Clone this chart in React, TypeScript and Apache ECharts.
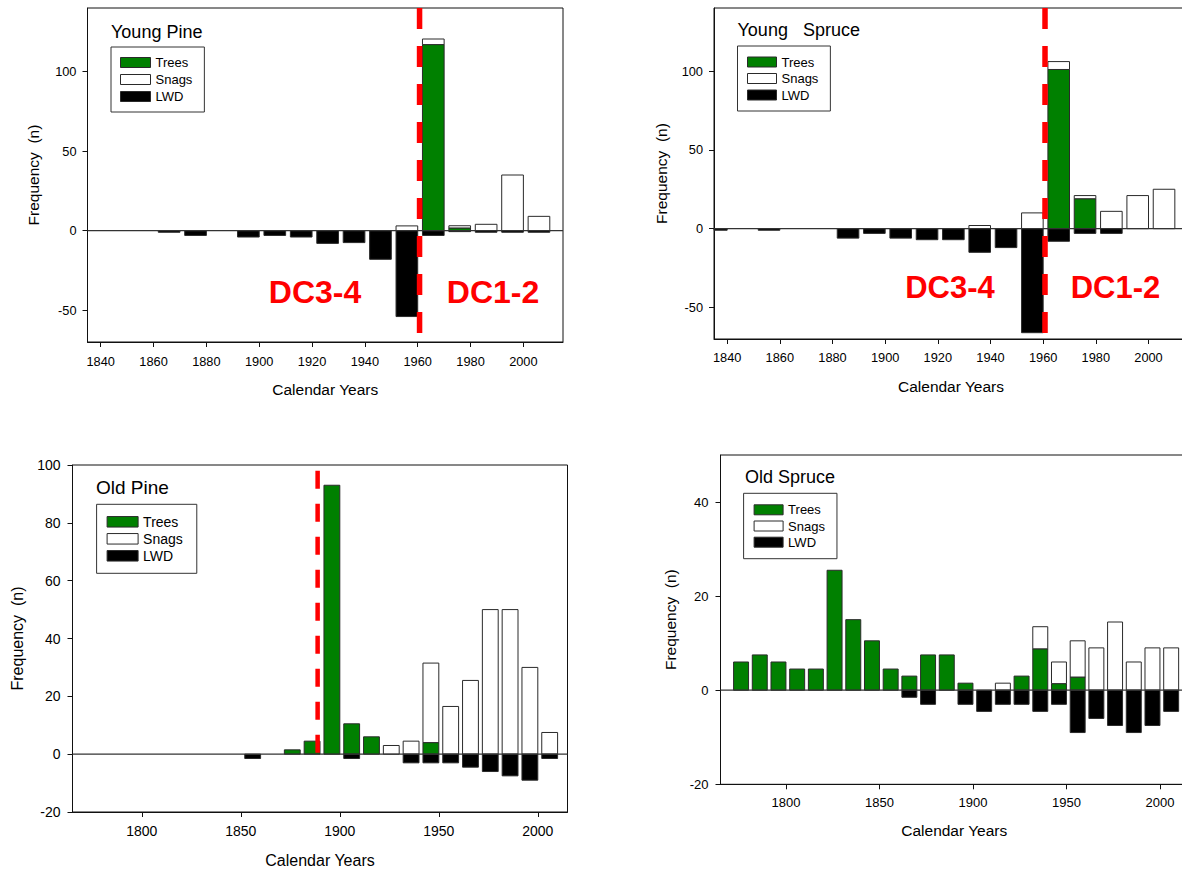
import React, { useEffect, useRef } from 'react';
import * as echarts from 'echarts';

// ---------------- DATA ----------------
// Young Pine (10-year bins, labelled by bin end year)
const ypYears = [1870, 1880, 1890, 1900, 1910, 1920, 1930, 1940, 1950, 1960, 1970, 1980, 1990, 2000, 2010];
const ypTrees = [0, 0, 0, 0, 0, 0, 0, 0, 0, 0, 117, 1.7, 0, 0, 0];
const ypSnags = [0, 0, 0, 0, 0, 0, 0, 0, 0, 3, 3.5, 1.4, 4, 35, 9];
const ypLWD = [-1, -3, 0, -4, -3, -4, -8, -7.5, -18, -54, -3, -0.6, -1, -1, -1];

// Young Spruce
const ysYears = [1840, 1860, 1890, 1900, 1910, 1920, 1930, 1940, 1950, 1960, 1970, 1980, 1990, 2000, 2010];
const ysTrees = [0, 0, 0, 0, 0, 0, 0, 0, 0, 0, 101, 19, 0, 0, 0];
const ysSnags = [0, 0, 0, 0, 0, 0, 0, 2, 0, 10, 5, 2, 11, 21, 25];
const ysLWD = [-1, -1, -6, -3, -6, -7, -7, -15, -12, -66, -8, -3, -3, 0, 0];

// Old Pine
const opYears = [1860, 1880, 1890, 1900, 1910, 1920, 1930, 1940, 1950, 1960, 1970, 1980, 1990, 2000, 2010];
const opTrees = [0, 1.5, 4.5, 93, 10.5, 6, 0, 0, 4, 0, 0, 0, 0, 0, 0];
const opSnags = [0, 0, 0, 0, 0, 0, 3, 4.5, 27.5, 16.5, 25.5, 50, 50, 30, 7.5];
const opLWD = [-1.5, 0, 0, 0, -1.5, 0, 0, -3, -3, -3, -4.5, -6, -7.5, -9, -1.5];

// Old Spruce
const osYears = [1780, 1790, 1800, 1810, 1820, 1830, 1840, 1850, 1860, 1870, 1880, 1890, 1900, 1910, 1920, 1930, 1940, 1950, 1960, 1970, 1980, 1990, 2000, 2010];
const osTrees = [6, 7.5, 6, 4.5, 4.5, 25.5, 15, 10.5, 4.5, 3, 7.5, 7.5, 1.5, 0, 0, 3, 8.8, 1.4, 2.8, 0, 0, 0, 0, 0];
const osSnags = [0, 0, 0, 0, 0, 0, 0, 0, 0, 0, 0, 0, 0, 0, 1.5, 0, 4.7, 4.6, 7.7, 9, 14.5, 6, 9, 9];
const osLWD = [0, 0, 0, 0, 0, 0, 0, 0, 0, -1.5, -3, 0, -3, -4.5, -3, -3, -4.5, -3, -9, -6, -7.5, -9, -7.5, -4.5];

// Tick labels
const youngXTicks = [1840, 1860, 1880, 1900, 1920, 1940, 1960, 1980, 2000];
const youngYTicks = [-50, 0, 50, 100];
const oldXTicks = [1800, 1850, 1900, 1950, 2000];
const opYTicks = [-20, 0, 20, 40, 60, 80, 100];
const osYTicks = [-20, 0, 20, 40];

// Divider (decay class boundary) lines
const ypDivider = [[1960.7, 140], [1960.7, -70]];
const ysDivider = [[1960.7, 140], [1960.7, -70]];
const opDivider = [[1888.8, 98], [1888.8, -1]];

const seriesNames = ['Trees', 'Snags', 'LWD'];

// ---------------- STYLE ----------------
const FONT = '"Liberation Sans", Arial, Helvetica, sans-serif';
const GREEN = '#008000';
const EDGE = '#2a2a2a';

type Panel = {
  title: string;
  years: number[];
  trees: number[];
  snags: number[];
  lwd: number[];
  xMin: number; xMax: number; xTicks: number[];
  yMin: number; yMax: number; yTicks: number[];
  grid: { left: number; top: number; width: number; height: number };
  divider?: number[][];
  dash?: number[]; dashWidth?: number;
  barW: number;
  tickFont: number; nameFont: number;
  xLabelMargin: number; xNameGap: number; yLabelMargin: number; yNameGap: number;
  titlePos: [number, number]; titleFont: number;
  legend: { left: number; top: number; padding: number[]; itemGap: number; itemWidth: number; itemHeight: number; font: number };
  dc?: { a: [number, number]; b: [number, number]; font: number };
};

const panels: Panel[] = [
  {
    title: 'Young Pine', years: ypYears, trees: ypTrees, snags: ypSnags, lwd: ypLWD,
    xMin: 1835, xMax: 2015, xTicks: youngXTicks, yMin: -70, yMax: 140, yTicks: youngYTicks,
    grid: { left: 87.5, top: 8, width: 475.5, height: 334 },
    divider: ypDivider, dash: [21, 17], dashWidth: 5.5, barW: 8.2,
    tickFont: 12.8, nameFont: 15.5, xLabelMargin: 13, xNameGap: 39, yLabelMargin: 11, yNameGap: 46,
    titlePos: [111, 32], titleFont: 18,
    legend: { left: 111, top: 47, padding: [9, 12, 9, 9], itemGap: 4, itemWidth: 30, itemHeight: 10, font: 13 },
    dc: { a: [315, 292], b: [493, 292], font: 32 },
  },
  {
    title: 'Young   Spruce', years: ysYears, trees: ysTrees, snags: ysSnags, lwd: ysLWD,
    xMin: 1835, xMax: 2015, xTicks: youngXTicks, yMin: -70, yMax: 140, yTicks: youngYTicks,
    grid: { left: 714, top: 8, width: 474, height: 331 },
    divider: ysDivider, dash: [21, 17], dashWidth: 5.5, barW: 8.2,
    tickFont: 12.8, nameFont: 15.5, xLabelMargin: 12, xNameGap: 39.5, yLabelMargin: 11, yNameGap: 45,
    titlePos: [737.5, 30], titleFont: 18,
    legend: { left: 737.5, top: 46, padding: [9.5, 12, 9.5, 9.5], itemGap: 3.5, itemWidth: 29, itemHeight: 10, font: 13 },
    dc: { a: [950, 287.5], b: [1115.5, 287.5], font: 31 },
  },
  {
    title: 'Old Pine', years: opYears, trees: opTrees, snags: opSnags, lwd: opLWD,
    xMin: 1765, xMax: 2015, xTicks: oldXTicks, yMin: -20, yMax: 100, yTicks: opYTicks,
    grid: { left: 72.5, top: 465, width: 495, height: 347 },
    divider: opDivider, dash: [18, 15], dashWidth: 4.5, barW: 8,
    tickFont: 14, nameFont: 16, xLabelMargin: 12, xNameGap: 40.5, yLabelMargin: 12, yNameGap: 47.5,
    titlePos: [96, 487], titleFont: 19,
    legend: { left: 96.6, top: 504.3, padding: [10.5, 14, 10.5, 10], itemGap: 3, itemWidth: 31, itemHeight: 10.5, font: 14 },
  },
  {
    title: 'Old Spruce', years: osYears, trees: osTrees, snags: osSnags, lwd: osLWD,
    xMin: 1765, xMax: 2015, xTicks: oldXTicks, yMin: -20, yMax: 50, yTicks: osYTicks,
    grid: { left: 720.5, top: 455, width: 467.5, height: 329.3 },
    barW: 8,
    tickFont: 13, nameFont: 15.5, xLabelMargin: 12, xNameGap: 38, yLabelMargin: 12, yNameGap: 42,
    titlePos: [745, 477], titleFont: 18,
    legend: { left: 743.6, top: 493.3, padding: [10, 12, 10, 10], itemGap: 3.2, itemWidth: 29, itemHeight: 10, font: 13 },
  },
];

const makeRender = (fill: string, barW: number) => (params: any, api: any) => {
  const end = api.value(0);
  const y0 = api.value(1);
  const y1 = api.value(2);
  const a = api.coord([end - barW, y0]);
  const b = api.coord([end, y1]);
  const cs = params.coordSys;
  const rect = echarts.graphic.clipRectByRect(
    { x: a[0], y: Math.min(a[1], b[1]), width: b[0] - a[0], height: Math.abs(b[1] - a[1]) },
    { x: cs.x, y: cs.y, width: cs.width, height: cs.height }
  );
  if (!rect) return null;
  return { type: 'rect', shape: rect, style: { fill, stroke: EDGE, lineWidth: 1 } };
};

function buildOption() {
  const grid: any[] = [];
  const xAxis: any[] = [];
  const yAxis: any[] = [];
  const series: any[] = [];
  const legend: any[] = [];
  const graphic: any[] = [];

  panels.forEach((p, i) => {
    grid.push({ ...p.grid, show: true, borderColor: '#111', borderWidth: 1, backgroundColor: 'transparent', containLabel: false });
    const common = (font: number) => ({ fontFamily: FONT, fontSize: font, color: '#000' });
    xAxis.push({
      type: 'value', gridIndex: i, min: p.xMin, max: p.xMax,
      axisLine: { show: true, onZero: false, lineStyle: { color: '#111', width: 1 } },
      axisTick: { show: true, customValues: p.xTicks, length: 5, lineStyle: { color: '#111' } },
      axisLabel: { customValues: p.xTicks, margin: p.xLabelMargin, formatter: (v: number) => String(v), ...common(p.tickFont) },
      splitLine: { show: false },
      name: 'Calendar Years', nameLocation: 'middle', nameGap: p.xNameGap, nameTextStyle: common(p.nameFont),
    });
    yAxis.push({
      type: 'value', gridIndex: i, min: p.yMin, max: p.yMax,
      axisLine: { show: true, onZero: false, lineStyle: { color: '#111', width: 1 } },
      axisTick: { show: true, customValues: p.yTicks, length: 5, lineStyle: { color: '#111' } },
      axisLabel: { customValues: p.yTicks, margin: p.yLabelMargin, formatter: (v: number) => String(v), ...common(p.tickFont) },
      splitLine: { show: false },
      name: 'Frequency  (n)', nameLocation: 'middle', nameGap: p.yNameGap, nameTextStyle: common(p.nameFont),
    });

    const treeRows: number[][] = [];
    const snagRows: number[][] = [];
    const lwdRows: number[][] = [];
    p.years.forEach((yr, k) => {
      const t = p.trees[k], s = p.snags[k], l = p.lwd[k];
      if (t > 0) treeRows.push([yr, 0, t]);
      if (s > 0) snagRows.push([yr, t, t + s]);
      if (l < 0) lwdRows.push([yr, 0, l]);
    });
    const fills = [GREEN, '#ffffff', '#000000'];
    [treeRows, snagRows, lwdRows].forEach((rows, j) => {
      series.push({
        type: 'custom', name: seriesNames[j], xAxisIndex: i, yAxisIndex: i,
        renderItem: makeRender(fills[j], p.barW), data: rows,
        encode: { x: 0, y: [1, 2] }, itemStyle: { color: fills[j], borderColor: EDGE, borderWidth: 1 },
        silent: true, z: 2,
      });
    });
    series.push({
      type: 'line', name: 'zero' + i, xAxisIndex: i, yAxisIndex: i,
      data: [[p.xMin, 0], [p.xMax, 0]], symbol: 'none', silent: true, z: 4,
      lineStyle: { color: '#333', width: 1.2 },
    });
    if (p.divider) {
      series.push({
        type: 'line', name: 'divider' + i, xAxisIndex: i, yAxisIndex: i,
        data: p.divider, symbol: 'none', silent: true, z: 6, clip: false,
        lineStyle: { color: '#ff0000', width: p.dashWidth, type: p.dash, cap: 'butt' },
      });
    }

    legend.push({
      orient: 'vertical', left: p.legend.left, top: p.legend.top,
      padding: p.legend.padding, itemGap: p.legend.itemGap,
      itemWidth: p.legend.itemWidth, itemHeight: p.legend.itemHeight,
      borderColor: '#333', borderWidth: 1, backgroundColor: 'transparent',
      selectedMode: false,
      textStyle: { fontFamily: FONT, fontSize: p.legend.font, color: '#000' },
      data: [
        { name: 'Trees', icon: 'rect', itemStyle: { color: GREEN, borderColor: EDGE, borderWidth: 1 } },
        { name: 'Snags', icon: 'rect', itemStyle: { color: '#ffffff', borderColor: EDGE, borderWidth: 1 } },
        { name: 'LWD', icon: 'rect', itemStyle: { color: '#000000', borderColor: EDGE, borderWidth: 1 } },
      ],
    });

    graphic.push({
      type: 'text', x: p.titlePos[0], y: p.titlePos[1], silent: true, z: 10,
      style: { text: p.title, fill: '#000', font: `${p.titleFont}px ${FONT}`, align: 'left', verticalAlign: 'middle' },
    });
    if (p.dc) {
      graphic.push({
        type: 'text', x: p.dc.a[0], y: p.dc.a[1], silent: true, z: 10,
        style: { text: 'DC3-4', fill: '#ff0000', font: `bold ${p.dc.font}px ${FONT}`, align: 'center', verticalAlign: 'middle' },
      });
      graphic.push({
        type: 'text', x: p.dc.b[0], y: p.dc.b[1], silent: true, z: 10,
        style: { text: 'DC1-2', fill: '#ff0000', font: `bold ${p.dc.font}px ${FONT}`, align: 'center', verticalAlign: 'middle' },
      });
    }
  });

  return {
    animation: false,
    backgroundColor: '#ffffff',
    grid, xAxis, yAxis, series, legend, graphic,
  };
}

export default function App() {
  const ref = useRef<HTMLDivElement>(null);
  useEffect(() => {
    if (!ref.current) return;
    const chart = echarts.init(ref.current, undefined, { renderer: 'svg' });
    chart.setOption(buildOption() as any);
    return () => chart.dispose();
  }, []);
  return (
    <div
      style={{ position: 'absolute', left: 0, top: 0, width: 1182, height: 872, overflow: 'hidden', background: '#fff' }}
    >
      <div ref={ref} style={{ width: 1200, height: 872 }} />
    </div>
  );
}
